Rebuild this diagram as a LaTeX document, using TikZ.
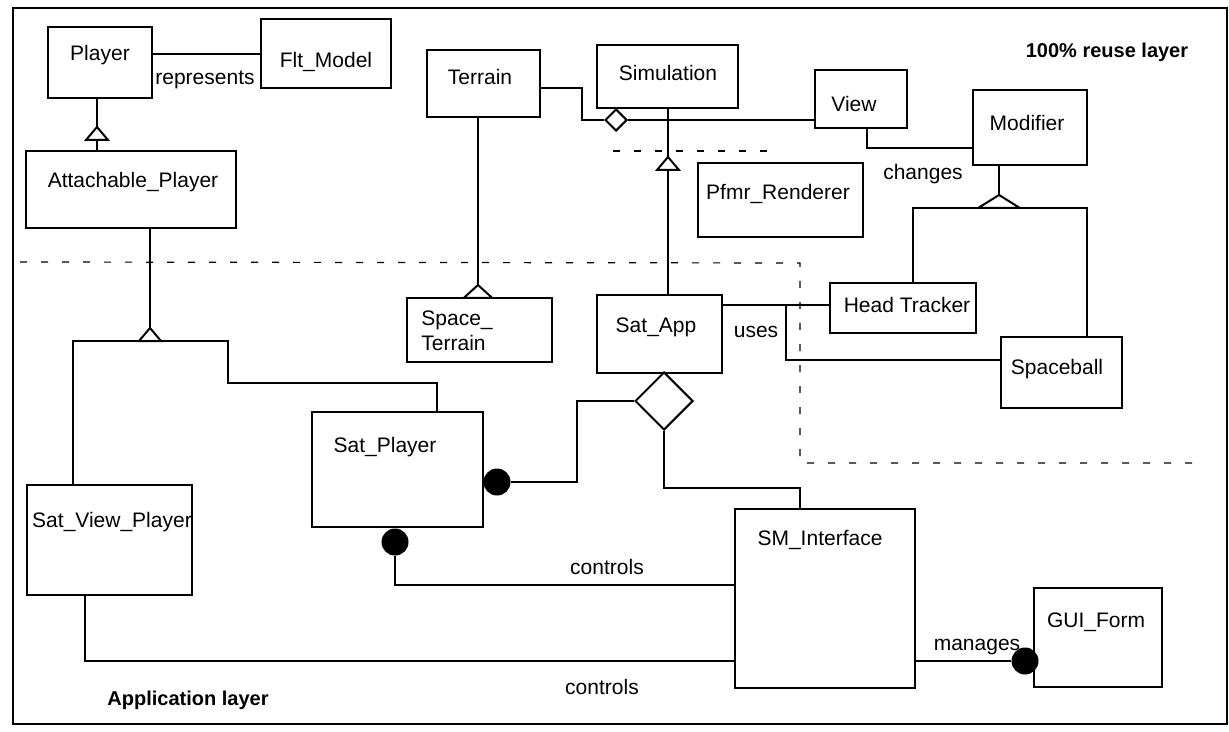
\documentclass[tikz,border=0pt]{standalone}
\usepackage{fontspec}
\setmainfont{Liberation Sans}
\usetikzlibrary{shapes.geometric}

\begin{document}
\begin{tikzpicture}[
    x=0.5pt, y=-0.5pt,
    classe/.style={draw, line width=1.1pt, inner sep=0pt},
    lien/.style={line width=1pt},
    couche/.style={line width=0.6pt, dash pattern=on 3.5pt off 7pt},
    boule/.style={circle, fill=black, inner sep=0pt, minimum size=13.5pt},
    agreg/.style={draw, diamond, line width=1pt, fill=white, inner sep=0pt},
    texte/.style={inner sep=0pt, text height=7.5pt, text depth=0pt},
    pics/herite/.style={code={\draw[line width=1pt, fill=white] (0,0) -- (11,13) -- (-11,13) -- cycle;}},
    font=\fontsize{10.5}{12.5}\selectfont
]

\useasboundingbox (0,0) rectangle (1229,732);

% Cadre et couches
\draw[line width=0.7pt] (13,8) rectangle (1227,724);
\draw[couche] (20,262) -- (800,263) -- (800,463) -- (1200,463);
\draw[couche] (613,151) -- (772,151);

\node[texte, font=\fontsize{10}{12}\selectfont\bfseries] (reuse) at (1107,50) {100\% reuse layer};
\node[texte, font=\fontsize{10}{12}\selectfont\bfseries] (appli) at (188,698) {Application layer};

% Classes
\node[classe, minimum width=52pt, minimum height=35.5pt] (player) at (100,62.5) {};
\node[classe, minimum width=65pt, minimum height=34.5pt] (fltmodel) at (326,53.5) {};
\node[classe, minimum width=105pt, minimum height=38.5pt] (attach) at (131,189.5) {};
\node[classe, minimum width=56.5pt, minimum height=33.5pt] (terrain) at (483.5,83.5) {};
\node[classe, minimum width=70.5pt, minimum height=31.5pt] (simulation) at (667.5,76.5) {};
\node[classe, minimum width=46pt, minimum height=29pt] (view) at (861,99) {};
\node[classe, minimum width=57pt, minimum height=37.5pt] (modifier) at (1030,127.5) {};
\node[classe, minimum width=82.5pt, minimum height=37pt] (pfmr) at (780.5,200) {};
\node[classe, minimum width=72.5pt, minimum height=32pt] (spaceterrain) at (479.5,330) {};
\node[classe, minimum width=62.5pt, minimum height=39pt] (satapp) at (659.5,334) {};
\node[classe, minimum width=73pt, minimum height=25pt] (headtracker) at (903,308) {};
\node[classe, minimum width=60.5pt, minimum height=35.5pt] (spaceball) at (1061.5,372.5) {};
\node[classe, minimum width=85.5pt, minimum height=57.5pt] (satplayer) at (397.5,469.5) {};
\node[classe, minimum width=82.5pt, minimum height=55pt] (satview) at (109.5,540) {};
\node[classe, minimum width=90pt, minimum height=89.5pt] (sminterface) at (825,598.5) {};
\node[classe, minimum width=64pt, minimum height=49.5pt] (guiform) at (1098,637.5) {};

% Noms des classes
\node[texte] (player-t) at (100,53) {Player};
\node[texte] (fltmodel-t) at (326,60) {Flt\_Model};
\node[texte] (attach-t) at (133,180) {Attachable\_Player};
\node[texte] (terrain-t) at (480,77) {Terrain};
\node[texte] (simulation-t) at (668,73) {Simulation};
\node[texte] (view-t) at (854,104) {View};
\node[texte] (modifier-t) at (1027,123) {Modifier};
\node[texte] (pfmr-t) at (778,192) {Pfmr\_Renderer};
\node[inner sep=0pt, align=left, anchor=west] (spaceterrain-t) at (421,331) {Space\_\\Terrain};
\node[texte] (satapp-t) at (656,325) {Sat\_App};
\node[texte] (headtracker-t) at (907,305) {Head Tracker};
\node[texte] (spaceball-t) at (1057,367) {Spaceball};
\node[texte] (satplayer-t) at (385,445) {Sat\_Player};
\node[texte] (satview-t) at (112,520) {Sat\_View\_Player};
\node[texte] (sminterface-t) at (820,538) {SM\_Interface};
\node[texte] (guiform-t) at (1096,620) {GUI\_Form};

% Agregations et boules
\node[agreg, minimum size=11pt] (aggsim) at (616,120) {};
\node[agreg, minimum size=29pt] (aggapp) at (664,401) {};
\node[boule] (b1) at (497,482) {};
\node[boule] (b2) at (395,542) {};
\node[boule] (b3) at (1025,661) {};

\coordinate (hplayer) at (97,127);
\coordinate (hattach) at (150,328);
\coordinate (hsim) at (668,157);
\coordinate (hterrain) at (478,285);
\coordinate (hmod) at (999,195);
\coordinate (uses-n) at (786,305);

% Liens
\draw[lien] (player.east |- 0,54) -- (fltmodel.west |- 0,54);
\draw[lien] (attach.north -| hplayer) -- (player.south -| hplayer);
\draw[lien] (attach.south -| hattach) -- (hattach);
\draw[lien] (satview.north -| 73,0) |- (228,341) |- (437,383) -- (satplayer.north -| 437,0);
\draw[lien] (terrain.east |- 0,88) -| (582,120) -- (aggsim.west);
\draw[lien] (aggsim.east) -- (view.west |- aggsim);
\draw[lien] (simulation.south -| hsim) -- (satapp.north -| hsim);
\draw[lien] (terrain.south -| hterrain) -- (spaceterrain.north -| hterrain);
\draw[lien] (view.south -| 867,0) |- (modifier.west |- 0,148);
\draw[lien] (modifier.south -| hmod) -- (hmod);
\draw[lien] (headtracker.north -| 913,0) |- (1087,208) -- (spaceball.north -| 1087,0);
\draw[lien] (satapp.east |- uses-n) -- (headtracker.west |- uses-n);
\draw[lien] (uses-n) |- (spaceball.west |- 0,360);
\draw[lien] (aggapp.west) -| (577,482) -- (b1);
\draw[lien] (aggapp.south) |- (800,488) -- (sminterface.north -| 800,0);
\draw[lien] (b2) |- (sminterface.west |- 0,585);
\draw[lien] (satview.south -| 85,0) |- (sminterface.west |- 0,661);
\draw[lien] (sminterface.east |- b3) -- (b3);

\pic at (hplayer) {herite};
\pic at (hattach) {herite};
\pic at (hsim) {herite};
\pic[xscale=1.3] at (hterrain) {herite};
\pic[xscale=1.9] at (hmod) {herite};

% Roles
\node[texte] (represents) at (205,77) {represents};
\node[texte] (changes) at (923,172) {changes};
\node[texte] (uses) at (756,330) {uses};
\node[texte] (controls1) at (607,567) {controls};
\node[texte] (controls2) at (602,687) {controls};
\node[texte] (manages) at (977,643) {manages};

\end{tikzpicture}
\end{document}
